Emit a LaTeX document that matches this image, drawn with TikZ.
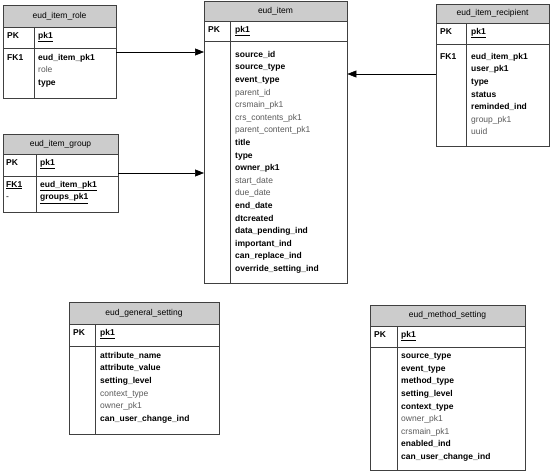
\documentclass[tikz,border=0pt]{standalone}
\usepackage{fontspec}
\setmainfont{Liberation Sans}
\usetikzlibrary{arrows.meta}
\begin{document}
\begin{tikzpicture}[x=1pt,y=-1pt,
  box/.style={draw=black!75,line width=0.8pt},
  hdr/.style={fill=black!20},
  t/.style={font=\fontsize{8.5}{10}\selectfont,inner sep=0pt},
  f/.style={font=\fontsize{8.5}{12.6}\selectfont,inner sep=0pt,anchor=north west,align=left},
  g/.style={text=black!65},
  arr/.style={-{Triangle[length=9pt,width=7pt]},line width=0.6pt}]
\useasboundingbox (0,0) rectangle (550,474);
\newcommand{\tbl}[9]{%
  \fill[hdr] (#2,#3) rectangle (#4,#5);
  \draw[box] (#2,#3) rectangle (#4,#7);
  \draw[box] (#2,#5) -- (#4,#5);
  \draw[box] (#2,#6) -- (#4,#6);
  \draw[box] (#8,#5) -- (#8,#7);
  \node[inner sep=0pt,minimum width=#4pt-#2pt,minimum height=#7pt-#3pt,anchor=north west] (#1) at (#2,#3) {};
  \node[t] at ({(#2+#4)/2},{(#3+#5)/2}) {#9};}
\newcommand{\pku}{\textbf{\underline{pk1}}}
% tables
\tbl{role}{3}{5}{116}{27}{48}{98}{34}{eud\_item\_role}
\node[f] at (7,32) {\textbf{PK}}; \node[f] at (38,32) {\pku};
\node[f] at (7,54) {\textbf{FK1}};
\node[f] at (38,54) {\textbf{eud\_item\_pk1}\\ \textcolor{black!65}{role}\\ \textbf{type}};

\tbl{group}{3}{134}{118}{154}{176}{212}{36}{eud\_item\_group}
\node[f] at (6,159) {\textbf{PK}}; \node[f] at (40,159) {\pku};
\node[f] at (6,181) {\textbf{\underline{FK1}}\\ -};
\node[f] at (40,181) {\textbf{\underline{eud\_item\_pk1}}\\ \textbf{\underline{groups\_pk1}}};

\tbl{item}{204}{1}{347}{21}{41}{283}{230}{eud\_item}
\node[f] at (208,26) {\textbf{PK}}; \node[f] at (235,26) {\pku};
\node[f] at (235,51) {\textbf{source\_id}\\ \textbf{source\_type}\\ \textbf{event\_type}\\
\textcolor{black!65}{parent\_id}\\ \textcolor{black!65}{crsmain\_pk1}\\ \textcolor{black!65}{crs\_contents\_pk1}\\ \textcolor{black!65}{parent\_content\_pk1}\\
\textbf{title}\\ \textbf{type}\\ \textbf{owner\_pk1}\\ \textcolor{black!65}{start\_date}\\ \textcolor{black!65}{due\_date}\\
\textbf{end\_date}\\ \textbf{dtcreated}\\ \textbf{data\_pending\_ind}\\ \textbf{important\_ind}\\ \textbf{can\_replace\_ind}\\ \textbf{override\_setting\_ind}};

\tbl{recip}{436}{4}{549}{23}{44}{146}{466}{eud\_item\_recipient}
\node[f] at (440,28) {\textbf{PK}}; \node[f] at (471,28) {\pku};
\node[f] at (440,53) {\textbf{FK1}};
\node[f] at (471,53) {\textbf{eud\_item\_pk1}\\ \textbf{user\_pk1}\\ \textbf{type}\\ \textbf{status}\\ \textbf{reminded\_ind}\\
\textcolor{black!65}{group\_pk1}\\ \textcolor{black!65}{uuid}};

\tbl{gen}{69}{302}{219}{324}{346}{434}{95}{eud\_general\_setting}
\node[f] at (73,329) {\textbf{PK}}; \node[f] at (100,329) {\pku};
\node[f] at (100,352) {\textbf{attribute\_name}\\ \textbf{attribute\_value}\\ \textbf{setting\_level}\\
\textcolor{black!65}{context\_type}\\ \textcolor{black!65}{owner\_pk1}\\ \textbf{can\_user\_change\_ind}};

\tbl{meth}{370}{305}{525}{326}{347}{470}{397}{eud\_method\_setting}
\node[f] at (374,331) {\textbf{PK}}; \node[f] at (401,331) {\pku};
\node[f] at (401,353) {\textbf{source\_type}\\ \textbf{event\_type}\\ \textbf{method\_type}\\ \textbf{setting\_level}\\ \textbf{context\_type}\\
\textcolor{black!65}{owner\_pk1}\\ \textcolor{black!65}{crsmain\_pk1}\\ \textbf{enabled\_ind}\\ \textbf{can\_user\_change\_ind}};

% connectors
\draw[arr] (role.east|-0,52) -- (item.west|-0,52);
\draw[arr] (group.east|-0,173) -- (item.west|-0,173);
\draw[arr] (recip.west|-0,74) -- (item.east|-0,74);
\end{tikzpicture}
\end{document}
